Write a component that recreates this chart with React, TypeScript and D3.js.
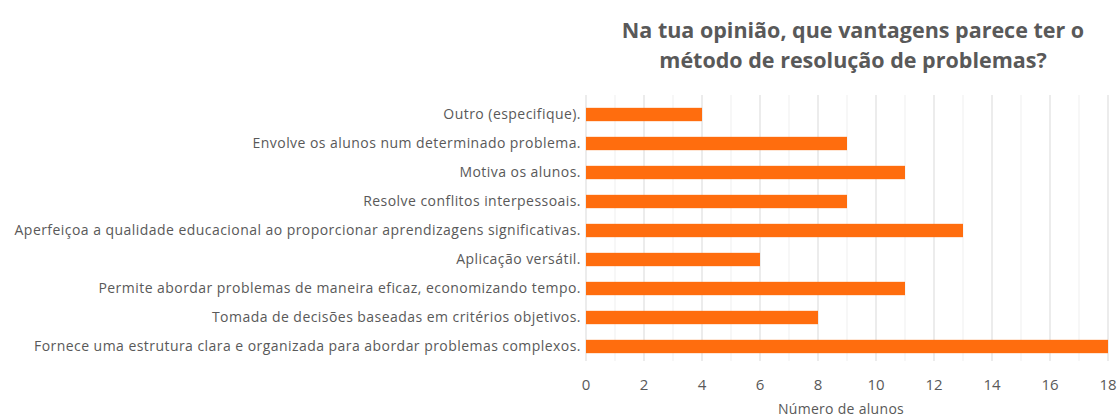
import React from 'react';
import { scaleLinear, scaleBand, range } from 'd3';

const categories = [
  'Outro (especifique).',
  'Envolve os alunos num determinado problema.',
  'Motiva os alunos.',
  'Resolve conflitos interpessoais.',
  'Aperfeiçoa a qualidade educacional ao proporcionar aprendizagens significativas.',
  'Aplicação versátil.',
  'Permite abordar problemas de maneira eficaz, economizando tempo.',
  'Tomada de decisões baseadas em critérios objetivos.',
  'Fornece uma estrutura clara e organizada para abordar problemas complexos.',
];
const values = [4, 9, 11, 9, 13, 6, 11, 8, 18];
const xTicks = [0, 2, 4, 6, 8, 10, 12, 14, 16, 18];
const titleLines = ['Na tua opinião, que vantagens parece ter o', 'método de resolução de problemas?'];
const axisTitle = 'Número de alunos';

const width = 1120;
const height = 419;
const margin = { left: 586, right: 12, top: 100, bottom: 58 };
const font = '"Open Sans", Lato, sans-serif';
const textColor = '#595959';

const App = () => {
  const x = scaleLinear().domain([0, 18]).range([margin.left, width - margin.right]);
  const y = scaleBand<string>()
    .domain(categories)
    .range([margin.top, height - margin.bottom])
    .paddingInner(0.54)
    .paddingOuter(0.27);
  const plotBottom = height - margin.bottom;

  return (
    <svg
      width={width}
      height={height}
      style={{ position: 'absolute', left: 0, top: 0, background: '#fff' }}
      fontFamily={font}
    >
      {/* minor gridlines */}
      {range(1, 18, 2).map(v => (
        <line key={'m' + v} x1={x(v)} x2={x(v)} y1={margin.top - 5} y2={plotBottom} stroke="#efefef" strokeWidth={1} />
      ))}
      {/* major gridlines */}
      {xTicks.map(v => (
        <line key={'g' + v} x1={x(v)} x2={x(v)} y1={margin.top - 5} y2={plotBottom} stroke="#d9d9d9" strokeWidth={1} />
      ))}

      {categories.map((c, i) => (
        <g key={c}>
          <rect x={x(0)} y={y(c)} width={x(values[i]) - x(0)} height={y.bandwidth()} fill="#ff6d0e" />
          <text
            x={x(0) - 5}
            y={(y(c) as number) + y.bandwidth() / 2}
            dy="0.35em"
            textAnchor="end"
            fontSize={14}
            letterSpacing={0.45}
            fill={textColor}
          >
            {c}
          </text>
        </g>
      ))}

      {xTicks.map(v => (
        <text key={'t' + v} x={x(v)} y={plotBottom + 29} textAnchor="middle" fontSize={15} fill={textColor}>
          {v}
        </text>
      ))}

      <text x={841} y={plotBottom + 53} textAnchor="middle" fontSize={14} letterSpacing={0.3} fill={textColor}>
        {axisTitle}
      </text>

      {titleLines.map((t, i) => (
        <text key={t} x={853} y={38 + i * 30} textAnchor="middle" fontSize={21.5} fontWeight="bold" fill={textColor}>
          {t}
        </text>
      ))}
    </svg>
  );
};

export default App;
